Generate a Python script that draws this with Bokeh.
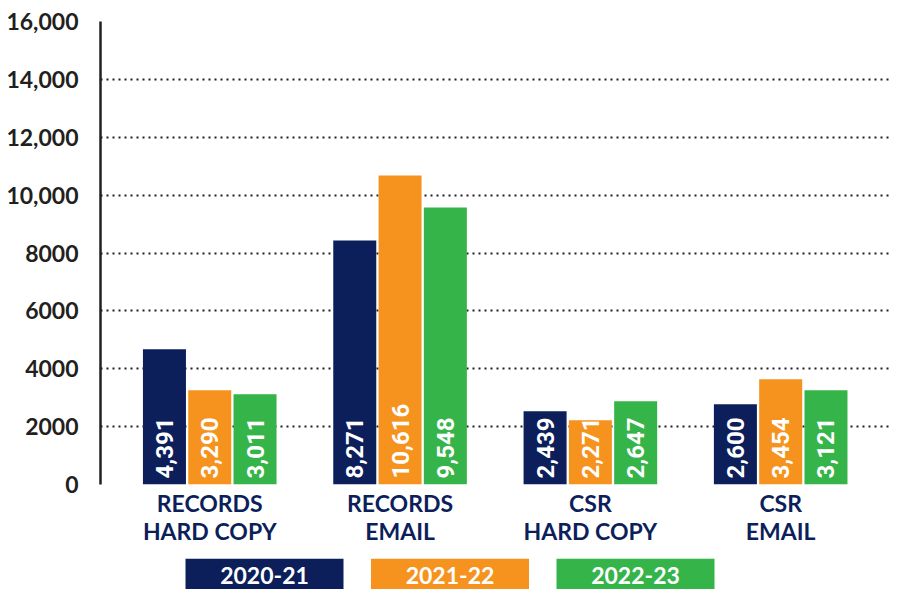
from math import pi
from bokeh.plotting import figure
from bokeh.models import ColumnDataSource, Range1d, FixedTicker
from bokeh.layouts import column
from bokeh.core.properties import value
from bokeh.embed import file_html
from bokeh.resources import INLINE

# ---------------- data ----------------
categories = ["RECORDS\nHARD COPY", "RECORDS\nEMAIL", "CSR\nHARD COPY", "CSR\nEMAIL"]
years = ["2020-21", "2021-22", "2022-23"]
colors = ["#0c1f5b", "#f6931f", "#35b44a"]

# printed values (labels inside bars)
values_2020_21 = [4391, 8271, 2439, 2600]
values_2021_22 = [3290, 10616, 2271, 3454]
values_2022_23 = [3011, 9548, 2647, 3121]

# bar heights as drawn in the picture
heights_2020_21 = [4670, 8430, 2530, 2770]
heights_2021_22 = [3255, 10675, 2220, 3635]
heights_2022_23 = [3115, 9570, 2875, 3255]

y_ticks = [0, 2000, 4000, 6000, 8000, 10000, 12000, 14000, 16000]
y_tick_labels = ["0", "2000", "4000", "6000", "8000", "10,000", "12,000", "14,000", "16,000"]

values = [values_2020_21, values_2021_22, values_2022_23]
heights = [heights_2020_21, heights_2021_22, heights_2022_23]

DARK = "#231f20"
NAVY = "#0c1f5b"
LABEL_FONT = value("Lato")
NUM_FONT = value("Roboto")

W = 899
# ---------------- main chart ----------------
p = figure(width=W, height=558, output_backend="svg", toolbar_location=None,
           x_range=Range1d(-0.574, 3.577), y_range=Range1d(0, 16000),
           min_border_left=100, min_border_right=9, min_border_top=21, min_border_bottom=74)
p.outline_line_color = None
p.background_fill_color = "white"
p.border_fill_color = "white"

p.xgrid.grid_line_color = None
p.ygrid.ticker = FixedTicker(ticks=y_ticks)
p.ygrid.grid_line_color = DARK
p.ygrid.grid_line_width = 2
p.ygrid.grid_line_dash = "2 4"

p.yaxis.ticker = FixedTicker(ticks=y_ticks)
p.yaxis.major_label_overrides = {t: l for t, l in zip(y_ticks, y_tick_labels)}
p.yaxis.axis_line_color = DARK
p.yaxis.axis_line_width = 2.5
p.yaxis.major_tick_line_color = None
p.yaxis.minor_tick_line_color = None
p.yaxis.major_label_standoff = 16
p.yaxis.major_label_text_font = "Lato"
p.yaxis.major_label_text_font_style = "bold"
p.yaxis.major_label_text_font_size = "23px"
p.yaxis.major_label_text_color = DARK

group_x = list(range(len(categories)))
p.xaxis.ticker = FixedTicker(ticks=group_x)
p.xaxis.major_label_overrides = {i: c for i, c in zip(group_x, categories)}
p.xaxis.axis_line_color = None
p.xaxis.major_tick_line_color = None
p.xaxis.minor_tick_line_color = None
p.xaxis.major_label_standoff = -2
p.xaxis.major_label_text_font = "Lato"
p.xaxis.major_label_text_font_style = "bold"
p.xaxis.major_label_text_font_size = "23px"
p.xaxis.major_label_text_color = NAVY
p.xaxis.major_label_text_line_height = 1.0

step = 0.238
bar_w = 0.226
for j, (yr, col) in enumerate(zip(years, colors)):
    xs = [g + (j - 1) * step for g in group_x]
    src = ColumnDataSource(dict(x=xs, top=heights[j],
                                lab=[f"{v:,}" for v in values[j]],
                                base=[0] * len(xs)))
    p.vbar(x="x", top="top", width=bar_w, source=src, fill_color=col, line_color=None)
    p.text(x="x", y="base", text="lab", source=src, angle=pi / 2,
           text_align="left", text_baseline="middle", y_offset=-6,
           text_color="white", text_font=NUM_FONT, text_font_style="bold",
           text_font_size="24px")

# ---------------- legend ----------------
# x in screen-like pixel units (100..890 = plot frame)
BH = 31
leg = figure(width=W, height=BH, output_backend="svg", toolbar_location=None,
             x_range=Range1d(100, 890), y_range=Range1d(0, BH),
             min_border_left=100, min_border_right=9, min_border_top=0, min_border_bottom=0,
             outline_line_color=None)
leg.axis.visible = False
leg.grid.visible = False

leg_x0 = 264
leg_step = 185.5
leg_src = ColumnDataSource(dict(x=[leg_x0 + i * leg_step for i in range(len(years))],
                                y=[15.5] * len(years), ty=[14] * len(years),
                                year=years, color=colors))
leg.rect(x="x", y="y", width=158, height=31, source=leg_src,
         fill_color="color", line_color=None)
leg.text(x="x", y="ty", text="year", source=leg_src, text_align="center",
         text_baseline="alphabetic", text_color="white", text_font=LABEL_FONT,
         text_font_style="bold", text_font_size="23px")

layout = column(p, leg, spacing=0)
open("out.html", "w").write(file_html(layout, INLINE))
